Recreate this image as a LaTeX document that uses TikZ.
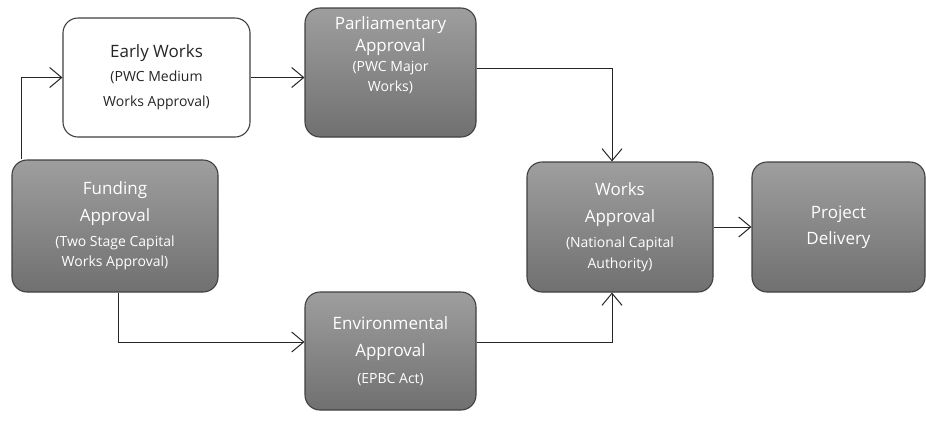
\documentclass[tikz,border=0pt]{standalone}
\usepackage{fontspec}
\setmainfont{Open Sans}
\usetikzlibrary{arrows.meta}

\newcommand\subt[1]{{\fontsize{14}{20}\selectfont #1}}

\begin{document}
\begin{tikzpicture}[x=1pt, y=-1pt, auto,
    block/.style={rectangle, draw=black!75, line width=1.1pt, top color=black!38, bottom color=black!56,
    text=white, align=center, rounded corners=15pt, font=\fontsize{17}{27}\selectfont},
    plain/.style={block, top color=white, bottom color=white, fill=white, text=black!85},
    line/.style={draw, black!85, line width=1pt, -{Straight Barb[length=12pt, width=20pt, line width=1pt]}}]

\useasboundingbox (0,0) rectangle (926,421);

\node [block, minimum width=206pt, minimum height=132pt] (funding) at (115,226)
  {Funding\\Approval\\[-2pt]\subt{(Two Stage Capital}\\[-7pt]\subt{Works Approval)}};
\node [plain, minimum width=187pt, minimum height=119pt] (early) at (156.5,77.5)
  {Early Works\\[-3pt]\subt{(PWC Medium}\\[-2pt]\subt{Works Approval)}};
\node [block, minimum width=171pt, minimum height=129pt] (parl) at (390.5,72.5)
  {Parliamentary\\[-5pt]Approval\\[-7pt]\subt{(PWC Major}\\[-7pt]\subt{Works)}\\[10pt]\mbox{}};
\node [block, minimum width=171pt, minimum height=118pt] (env) at (390.5,351)
  {Environmental\\Approval\\\subt{(EPBC Act)}};
\node [block, minimum width=186pt, minimum height=130pt] (works) at (620,227)
  {Works\\Approval\\[-2pt]\subt{(National Capital}\\[-6pt]\subt{Authority)}};
\node [block, minimum width=173pt, minimum height=130pt] (delivery) at (838.5,227)
  {Project\\[-1pt]Delivery};

\path [line] ([xshift=10pt]funding.north west) |- (early.west);
\path [line] (early.east) -- (early.east -| parl.west);
\path [line] ([yshift=4pt]parl.east) -| ([xshift=-8pt]works.north);
\path [line] ([xshift=3pt]funding.south) |- ([yshift=9pt]env.west);
\path [line] ([yshift=9pt]env.east) -| ([xshift=-8pt]works.south);
\path [line] (works.east) -- (works.east -| delivery.west);
\end{tikzpicture}
\end{document}
